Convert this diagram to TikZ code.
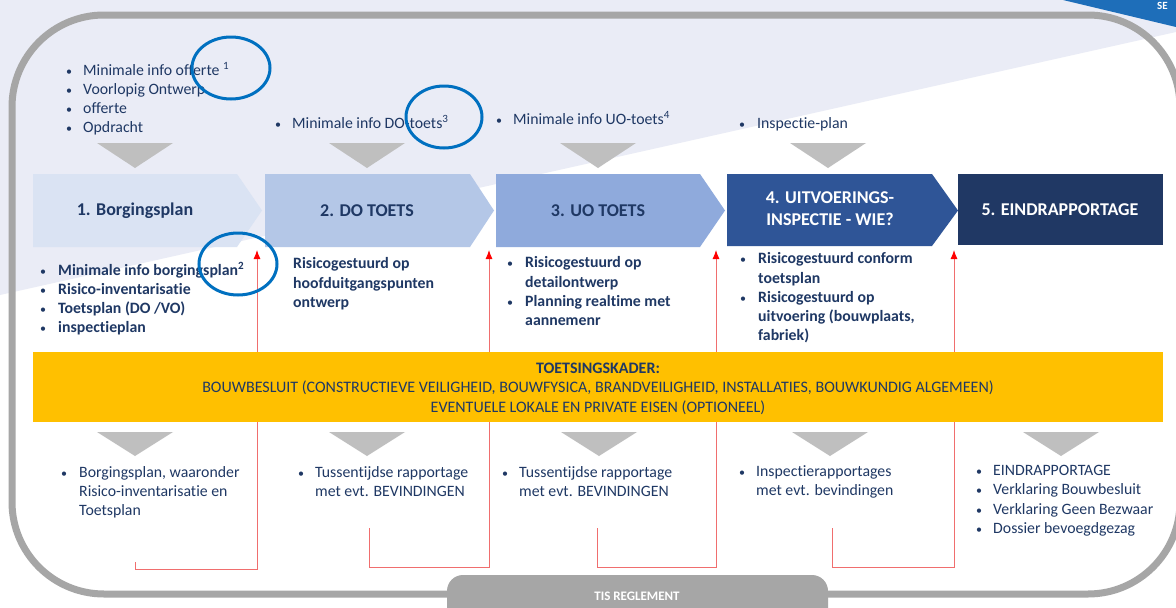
\documentclass[tikz,border=0pt]{standalone}
\usepackage{fontspec}
\setmainfont{Carlito}[Ligatures=NoCommon]
\usetikzlibrary{arrows.meta}
\definecolor{lav}{RGB}{234,236,246}
\definecolor{navy}{RGB}{31,56,100}
\definecolor{cA}{RGB}{218,227,243}
\definecolor{cB}{RGB}{180,199,231}
\definecolor{cC}{RGB}{143,170,220}
\definecolor{cD}{RGB}{47,85,151}
\definecolor{cE}{RGB}{32,56,100}
\definecolor{gborder}{RGB}{166,166,166}
\definecolor{gtri}{RGB}{191,191,191}
\definecolor{ybar}{RGB}{255,192,0}
\definecolor{cblue}{RGB}{0,112,192}
\definecolor{banner}{RGB}{30,110,185}
\definecolor{rline}{RGB}{240,110,110}
\begin{document}
\begin{tikzpicture}[x=1pt,y=-1pt,
  txt/.style={font=\fontsize{15.8}{19}\selectfont, text=navy, anchor=base west, inner sep=0pt},
  btxt/.style={font=\fontsize{15.8}{19}\selectfont\bfseries, text=navy, anchor=base west, inner sep=0pt},
  bul/.style={font=\fontsize{12}{19}\selectfont, text=navy, anchor=base west, inner sep=0pt},
  boxlbl/.style={font=\fontsize{18}{22}\selectfont\bfseries, align=center, inner sep=0pt},
  ytxt/.style={font=\fontsize{16}{19}\selectfont, text=navy, anchor=base, inner sep=0pt},
  downtri/.style={fill=gtri},
  redarrow/.style={draw=rline, line width=0.9pt, -{Latex[length=9pt,width=7pt,color=red]}},
  circ/.style={draw=cblue, line width=3pt},
]
\useasboundingbox (0,0) rectangle (1176,608);
\clip (0,0) rectangle (1176,608);
\fill[white] (0,0) rectangle (1176,608);
% background wedge and banner
\fill[lav] (0,0) -- (1176,0) -- (1176,32) -- (0,295) -- cycle;
\fill[banner] (1063,0) -- (1176,0) -- (1176,27) -- cycle;
\node[font=\fontsize{11}{13}\selectfont\bfseries, text=white, anchor=base west, inner sep=0pt] (se) at (1157,9) {SE};
% outer border
\draw[gborder, line width=7pt, rounded corners=92pt] (12,15) rectangle (1180,594);
\fill[gborder, rounded corners=16pt] (447,575) rectangle (828,640);
\node[font=\fontsize{13}{15}\selectfont\bfseries, text=white, inner sep=0pt] (tis) at (637,596) {TIS REGLEMENT};

% top lists
\node[bul] (t1b1) at (66,75) {•}; \node[txt] (t1l1) at (83,75) {Minimale info offerte \textsuperscript{1}};
\node[bul] (t1b2) at (66,94) {•}; \node[txt] (t1l2) at (83,94) {Voorlopig Ontwerp};
\node[bul] (t1b3) at (66,113) {•}; \node[txt] (t1l3) at (83,113) {offerte};
\node[bul] (t1b4) at (66,132) {•}; \node[txt] (t1l4) at (83,132) {Opdracht};
\node[bul] (t2b1) at (275,128) {•}; \node[txt] (t2l1) at (292,128) {Minimale info DO-toets\textsuperscript{3}};
\node[bul] (t3b1) at (496,124) {•}; \node[txt] (t3l1) at (513,124) {Minimale info UO-toets\textsuperscript{4}};
\node[bul] (t4b1) at (739,128) {•}; \node[txt] (t4l1) at (757,128) {Inspectie-plan};

% top down triangles
\foreach \cx in {135,367,598,828} {
  \fill[downtri] (\cx-38,143) -- (\cx+38,143) -- (\cx,168) -- cycle;
}

% process boxes
\fill[cA] (33,174) -- (237,174) -- (262,210.5) -- (237,247) -- (33,247) -- cycle;
\fill[cB] (265,174) -- (470,174) -- (494,210.5) -- (470,247) -- (265,247) -- cycle;
\fill[cC] (496,174) -- (700,174) -- (725,210.5) -- (700,247) -- (496,247) -- cycle;
\fill[cD] (727,174) -- (932,174) -- (958,210.5) -- (932,246) -- (727,246) -- cycle;
\fill[cE] (958,174) rectangle (1163,245);
\node[boxlbl, text=navy] (b1) at (135,211) {1. Borgingsplan};
\node[boxlbl, text=navy] (b2) at (367,211) {2. DO TOETS};
\node[boxlbl, text=navy] (b3) at (598,211) {3. UO TOETS};
\node[boxlbl, text=white] (b4) at (830,209) {4. UITVOERINGS-\\INSPECTIE - WIE?};
\node[boxlbl, text=white] (b5) at (1060,210) {5. EINDRAPPORTAGE};

% red feedback arrows (behind the yellow band)
\coordinate (a1s) at (135,562); \coordinate (a1t) at (257,250);
\coordinate (a2s) at (369,528); \coordinate (a2t) at (489,250);
\coordinate (a3s) at (597,528); \coordinate (a3t) at (716,250);
\coordinate (a4s) at (832,528); \coordinate (a4t) at (954,250);
\draw[redarrow] (a1s) -- (135,569) -- (257,569) -- (a1t);
\draw[redarrow] (a2s) -- (369,567) -- (489,567) -- (a2t);
\draw[redarrow] (a3s) -- (597,567) -- (716,567) -- (a3t);
\draw[redarrow] (a4s) -- (832,567) -- (954,567) -- (a4t);

% lists under boxes (bold)
\node[bul] (m1b1) at (40,275) {•}; \node[btxt] (m1l1) at (58,275) {Minimale info borgingsplan\textsuperscript{2}};
\node[bul] (m1b2) at (40,294) {•}; \node[btxt] (m1l2) at (58,294) {Risico-inventarisatie};
\node[bul] (m1b3) at (40,313) {•}; \node[btxt] (m1l3) at (58,313) {Toetsplan (DO /VO)};
\node[bul] (m1b4) at (40,332) {•}; \node[btxt] (m1l4) at (58,332) {inspectieplan};
\node[btxt] (m2l1) at (293,268) {Risicogestuurd op};
\node[btxt] (m2l2) at (293,288) {hoofduitgangspunten};
\node[btxt] (m2l3) at (293,307) {ontwerp};
\node[bul] (m3b1) at (507,267) {•}; \node[btxt] (m3l1) at (525,267) {Risicogestuurd op};
\node[btxt] (m3l2) at (525,287) {detailontwerp};
\node[bul] (m3b3) at (507,306) {•}; \node[btxt] (m3l3) at (525,306) {Planning realtime met};
\node[btxt] (m3l4) at (525,325) {aannemenr};
\node[bul] (m4b1) at (740,263) {•}; \node[btxt] (m4l1) at (758,263) {Risicogestuurd conform};
\node[btxt] (m4l2) at (758,283) {toetsplan};
\node[bul] (m4b3) at (740,302) {•}; \node[btxt] (m4l3) at (758,302) {Risicogestuurd op};
\node[btxt] (m4l4) at (758,321) {uitvoering (bouwplaats,};
\node[btxt] (m4l5) at (758,340) {fabriek)};

% yellow band
\node[fill=ybar, minimum width=1130pt, minimum height=70pt, inner sep=0pt] (yk) at (598,387) {};
\node[ytxt, font=\fontsize{16}{19}\selectfont\bfseries] (yk1) at (598,373) {TOETSINGSKADER:};
\node[ytxt] (yk2) at (598,392) {BOUWBESLUIT (CONSTRUCTIEVE VEILIGHEID, BOUWFYSICA, BRANDVEILIGHEID, INSTALLATIES, BOUWKUNDIG ALGEMEEN)};
\node[ytxt] (yk3) at (598,412) {EVENTUELE LOKALE EN PRIVATE EISEN (OPTIONEEL)};

% bottom down triangles
\foreach \cx in {135,367,599,830,1061} {
  \fill[downtri] (\cx-38,432) -- (\cx+38,432) -- (\cx,456) -- cycle;
}

% bottom lists
\node[bul] (o1b1) at (61,477) {•}; \node[txt] (o1l1) at (79,477) {Borgingsplan, waaronder};
\node[txt] (o1l2) at (79,496) {Risico-inventarisatie en};
\node[txt] (o1l3) at (79,515) {Toetsplan};
\node[bul] (o2b1) at (298,477) {•}; \node[txt] (o2l1) at (315,477) {Tussentijdse rapportage};
\node[txt] (o2l2) at (315,496) {met evt. BEVINDINGEN};
\node[bul] (o3b1) at (502,477) {•}; \node[txt] (o3l1) at (519,477) {Tussentijdse rapportage};
\node[txt] (o3l2) at (519,496) {met evt. BEVINDINGEN};
\node[bul] (o4b1) at (739,476) {•}; \node[txt] (o4l1) at (756,476) {Inspectierapportages};
\node[txt] (o4l2) at (756,495) {met evt. bevindingen};
\node[bul] (o5b1) at (976,475) {•}; \node[txt] (o5l1) at (993,475) {EINDRAPPORTAGE};
\node[bul] (o5b2) at (976,494) {•}; \node[txt] (o5l2) at (993,494) {Verklaring Bouwbesluit};
\node[bul] (o5b3) at (976,514) {•}; \node[txt] (o5l3) at (993,514) {Verklaring Geen Bezwaar};
\node[bul] (o5b4) at (976,533) {•}; \node[txt] (o5l4) at (993,533) {Dossier bevoegdgezag};

% blue highlight ellipses
\draw[circ] (231,68) ellipse [x radius=39pt, y radius=31pt];
\draw[circ] (444,117) ellipse [x radius=38pt, y radius=31pt];
\draw[circ] (238,264) ellipse [x radius=39pt, y radius=31pt];
\end{tikzpicture}
\end{document}
